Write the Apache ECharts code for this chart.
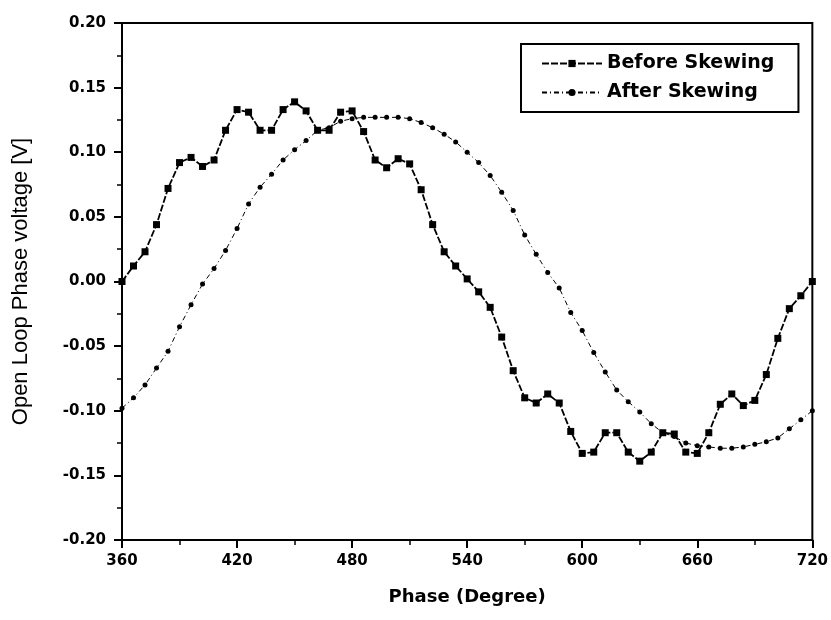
<!DOCTYPE html>
<html>
<head>
<meta charset="utf-8">
<script src="https://cdn.jsdelivr.net/npm/echarts@6/dist/echarts.min.js"></script>
<style>
html,body{margin:0;padding:0;background:#fff;}
#chart{width:831px;height:620px;}
</style>
</head>
<body>
<div id="chart"></div>
<script>
const phase = [360,366,372,378,384,390,396,402,408,414,420,426,432,438,444,450,456,462,468,474,480,486,492,498,504,510,516,522,528,534,540,546,552,558,564,570,576,582,588,594,600,606,612,618,624,630,636,642,648,654,660,666,672,678,684,690,696,702,708,714,720];
const beforeSkewing = [0.000,0.012,0.023,0.044,0.072,0.092,0.096,0.089,0.094,0.117,0.133,0.131,0.117,0.117,0.133,0.139,0.132,0.117,0.117,0.131,0.132,0.116,0.094,0.088,0.095,0.091,0.071,0.044,0.023,0.012,0.002,-0.008,-0.020,-0.043,-0.069,-0.090,-0.094,-0.087,-0.094,-0.116,-0.133,-0.132,-0.117,-0.117,-0.132,-0.139,-0.132,-0.117,-0.118,-0.132,-0.133,-0.117,-0.095,-0.087,-0.096,-0.092,-0.072,-0.044,-0.021,-0.011,0.000];
const afterSkewing = [-0.098,-0.090,-0.080,-0.067,-0.054,-0.035,-0.018,-0.002,0.010,0.024,0.041,0.060,0.073,0.083,0.094,0.102,0.109,0.117,0.119,0.124,0.126,0.127,0.127,0.127,0.127,0.126,0.123,0.119,0.114,0.108,0.100,0.092,0.082,0.069,0.055,0.036,0.021,0.007,-0.005,-0.024,-0.038,-0.055,-0.070,-0.084,-0.093,-0.101,-0.110,-0.117,-0.120,-0.125,-0.127,-0.128,-0.129,-0.129,-0.128,-0.126,-0.124,-0.121,-0.114,-0.107,-0.100];
const xTicks = [360,420,480,540,600,660,720];
const yTicks = [-0.20,-0.15,-0.10,-0.05,0.00,0.05,0.10,0.15,0.20];
const seriesNames = ['Before Skewing','After Skewing'];
const xTitle = 'Phase (Degree)';
const yTitle = 'Open Loop Phase voltage [V]';

const chart = echarts.init(document.getElementById('chart'));
const pair = (ys) => ys.map((v, i) => [phase[i], v]);
const tickFont = {color:'#000', fontFamily:'DejaVu Sans', fontWeight:'bold', fontSize:15};
chart.setOption({
  animation:false,
  backgroundColor:'#fff',
  grid:{left:122, right:12, top:23, bottom:80, show:true, borderColor:'#000', borderWidth:2, backgroundColor:'transparent'},
  legend:{
    orient:'vertical', left:521, top:44,
    padding:[10,24,10,20], itemGap:10, itemWidth:60, itemHeight:9,
    borderColor:'#000', borderWidth:2, backgroundColor:'#fff',
    textStyle:{color:'#000', fontFamily:'DejaVu Sans', fontWeight:'bold', fontSize:19},
    data:seriesNames
  },
  xAxis:{
    type:'value', min:xTicks[0], max:xTicks[xTicks.length-1], interval:60,
    name:xTitle, nameLocation:'middle', nameGap:48,
    nameTextStyle:{color:'#000', fontFamily:'DejaVu Sans', fontWeight:'bold', fontSize:18},
    axisLine:{show:true, onZero:false, lineStyle:{color:'#000', width:2}},
    axisTick:{show:true, inside:false, length:8, lineStyle:{color:'#000', width:2}},
    minorTick:{show:true, splitNumber:2, length:5, lineStyle:{color:'#000', width:1.5}},
    axisLabel:Object.assign({margin:14, formatter:(v)=>String(v)}, tickFont),
    splitLine:{show:false}
  },
  yAxis:{
    type:'value', min:yTicks[0], max:yTicks[yTicks.length-1], interval:0.05,
    name:yTitle, nameLocation:'middle', nameGap:90, nameRotate:90,
    nameTextStyle:{color:'#000', fontFamily:'Liberation Sans', fontSize:22},
    axisLine:{show:true, onZero:false, lineStyle:{color:'#000', width:2}},
    axisTick:{show:true, inside:false, length:8, lineStyle:{color:'#000', width:2}},
    minorTick:{show:true, splitNumber:2, length:5, lineStyle:{color:'#000', width:1.5}},
    axisLabel:Object.assign({margin:16, formatter:(v)=>v.toFixed(2)}, tickFont),
    splitLine:{show:false}
  },
  series:[
    {
      name:seriesNames[0], type:'line', data:pair(beforeSkewing),
      symbol:'rect', symbolSize:7, showSymbol:true,
      itemStyle:{color:'#000'},
      lineStyle:{color:'#000', width:1.8, type:[7,2]}
    },
    {
      name:seriesNames[1], type:'line', data:pair(afterSkewing),
      symbol:'circle', symbolSize:5, showSymbol:true,
      itemStyle:{color:'#000'},
      lineStyle:{color:'#000', width:1, type:[5,3,1,3]}
    }
  ]
});
</script>
</body>
</html>
